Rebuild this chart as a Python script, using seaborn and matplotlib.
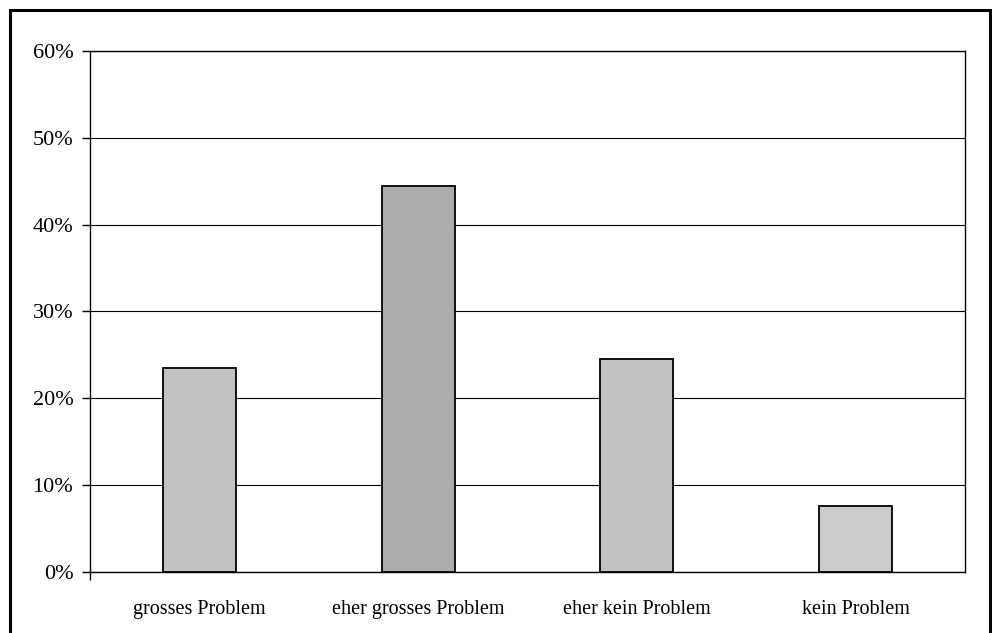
import numpy as np
import pandas as pd
import matplotlib
matplotlib.use('Agg')
import matplotlib.pyplot as plt
import seaborn as sns
from matplotlib.patches import Rectangle
from matplotlib.ticker import FixedLocator

# Daten
kategorien = ['grosses Problem', 'eher grosses Problem', 'eher kein Problem', 'kein Problem']
anteile = [23.5, 44.4, 24.5, 7.6]
farben = ['#c2c2c2', '#acacac', '#c2c2c2', '#cbcbcb']
y_ticks = [0, 10, 20, 30, 40, 50, 60]

sns.set_style('white')
plt.rcParams['font.family'] = ['Liberation Serif', 'DejaVu Serif']

fig = plt.figure(figsize=(9.92, 6.33), dpi=100)
ax = fig.add_axes([0.0907, 0.0964, 0.8821, 0.823])

df = pd.DataFrame({'Kategorie': kategorien, 'Anteil': anteile})
sns.barplot(data=df, x='Kategorie', y='Anteil', hue='Kategorie', palette=farben,
            legend=False, width=0.334, edgecolor='black', linewidth=1.3,
            saturation=1, ax=ax, zorder=3)

ax.set_ylim(0, 60)
ax.set_xlim(-0.5, 3.5)
ax.set_yticks(y_ticks)
ax.set_yticklabels([f'{t}%' for t in y_ticks], fontsize=16)
ax.yaxis.grid(True, color='black', linewidth=0.8, zorder=0)
ax.set_axisbelow(True)
ax.set_xlabel('')
ax.set_ylabel('')

ax.tick_params(axis='y', length=6, width=1, color='black', pad=6, left=True,
               direction='out', labelcolor='black')
ax.tick_params(axis='x', which='major', length=0, pad=20, labelsize=14.5, labelcolor='black')
ax.xaxis.set_minor_locator(FixedLocator([-0.5]))
ax.tick_params(axis='x', which='minor', length=6, width=1, color='black', bottom=True, direction='out')

for s in ax.spines.values():
    s.set_color('black')
    s.set_linewidth(1)

# Rahmen um die Grafik
rahmen = Rectangle((10 / 992, -0.1), 980 / 992, 1.1 - 10 / 633, transform=fig.transFigure,
                   fill=False, edgecolor='black', linewidth=2.2, clip_on=False)
fig.patches.append(rahmen)

fig.savefig('out.png', dpi=100)
